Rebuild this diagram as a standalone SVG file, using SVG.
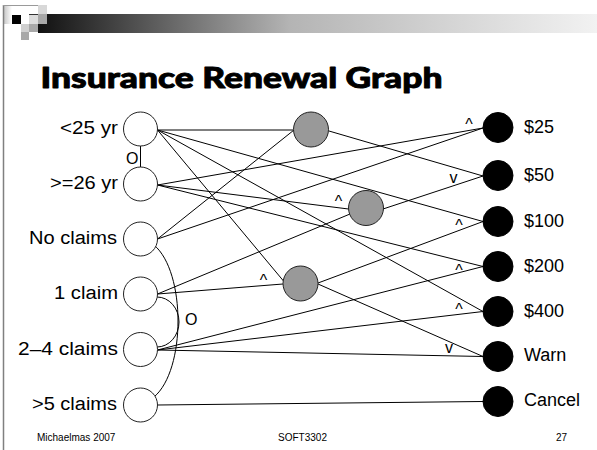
<svg xmlns="http://www.w3.org/2000/svg" width="597" height="450" viewBox="0 0 597 450">
<defs>
<linearGradient id="bar" x1="0" y1="0" x2="1" y2="0">
<stop offset="0" stop-color="#111"/>
<stop offset="0.45" stop-color="#b4b4b4"/>
<stop offset="1" stop-color="#f2f2f2"/>
</linearGradient>
<linearGradient id="corner" x1="0" y1="0" x2="1" y2="0">
<stop offset="0" stop-color="#c8c8c8"/>
<stop offset="1" stop-color="#fff"/>
</linearGradient>
</defs>
<style>
.lbl{font-family:"Liberation Sans",Arial,sans-serif;font-size:18px;fill:#000}
.op{font-family:"Liberation Sans",Arial,sans-serif;font-size:16px;fill:#000}
.ft{font-family:"Liberation Sans",Arial,sans-serif;font-size:10px;fill:#000}
.in{fill:#fff;stroke:#222;stroke-width:1}
.mid{fill:#999;stroke:#222;stroke-width:1}
.out{fill:#000;stroke:#000;stroke-width:1}
#connectors line,#connectors path{stroke:#000;stroke-width:1;fill:none}
</style>
<rect width="597" height="450" fill="#fff"/>
<!-- slide decoration -->
<rect x="4" y="6" width="8" height="18" fill="url(#corner)"/>
<line x1="3.5" y1="5" x2="3.5" y2="450" stroke="#808080" stroke-width="1.5"/>
<line x1="3" y1="5.5" x2="38" y2="5.5" stroke="#9a9a9a" stroke-width="1"/>
<rect x="38" y="14" width="559" height="19" fill="url(#bar)"/>
<rect x="38" y="5" width="9" height="9" fill="#d8d8d8"/>
<rect x="12" y="15" width="9" height="9" fill="#000"/>
<rect x="29" y="14" width="9" height="10" fill="#dcdcdc"/>
<line x1="29" y1="14.5" x2="38" y2="14.5" stroke="#333" stroke-width="1"/>
<rect x="38" y="14" width="9" height="10" fill="#a8a8a8"/>
<rect x="21" y="24" width="8" height="8" fill="#d0d0d0"/>
<rect x="29" y="24" width="9" height="8" fill="#a8a8a8"/>
<rect x="21" y="32" width="8" height="8" fill="#a8a8a8"/>
<text x="40.5" y="88" font-family="'Arial Black','Lato','DejaVu Sans',sans-serif" font-weight="900" font-size="29" stroke="#000" stroke-width="0.9" stroke-linejoin="round" textLength="402" lengthAdjust="spacingAndGlyphs">Insurance Renewal Graph</text>

<g id="connectors">
<line x1="157.5" y1="130" x2="293" y2="130"/>
<line x1="157.5" y1="130" x2="483" y2="221.5"/>
<line x1="157.5" y1="130" x2="483" y2="311.5"/>
<line x1="157.5" y1="130" x2="283.5" y2="281"/>
<line x1="157.5" y1="185" x2="483" y2="128"/>
<line x1="157.5" y1="185" x2="348.5" y2="209"/>
<line x1="157.5" y1="185" x2="483" y2="266.5"/>
<line x1="157.5" y1="239" x2="294" y2="130"/>
<line x1="157.5" y1="239" x2="483" y2="128"/>
<line x1="157.5" y1="294" x2="350" y2="214"/>
<line x1="157.5" y1="294" x2="283" y2="284"/>
<line x1="157.5" y1="350" x2="483" y2="266.5"/>
<line x1="157.5" y1="350" x2="483" y2="311.5"/>
<line x1="157.5" y1="350" x2="483" y2="356.5"/>
<line x1="157.5" y1="405" x2="483" y2="401.5"/>
<line x1="329" y1="131" x2="483" y2="176"/>
<line x1="383" y1="209" x2="483" y2="176"/>
<line x1="318" y1="283" x2="483" y2="221.5"/>
<line x1="318" y1="284" x2="483" y2="356.5"/>
<line x1="140.5" y1="146" x2="140.5" y2="167"/>
<path d="M154,245 C186,272 186,370 154,397"/>
<path d="M157,297 A22 25 0 0 1 157,347"/>
<text class="op" x="126" y="164">O</text>
<text class="op" x="185" y="325">O</text>
<text class="op" x="469" y="129.5" text-anchor="middle">^</text>
<text class="op" x="338.5" y="206.5" text-anchor="middle">^</text>
<text class="op" x="459" y="230.5" text-anchor="middle">^</text>
<text class="op" x="459" y="275.5" text-anchor="middle">^</text>
<text class="op" x="459" y="314.5" text-anchor="middle">^</text>
<text class="op" x="263.5" y="285.5" text-anchor="middle">^</text>
<text class="op" x="453.5" y="183" text-anchor="middle">v</text>
<text class="op" x="449" y="353" text-anchor="middle">v</text>
</g>

<g id="n-lt25"><circle class="in" cx="140.5" cy="129" r="17"/><text class="lbl" x="118" y="134" text-anchor="end" textLength="58" lengthAdjust="spacingAndGlyphs">&lt;25 yr</text></g>
<g id="n-ge26"><circle class="in" cx="140.5" cy="184" r="17"/><text class="lbl" x="118" y="189" text-anchor="end" textLength="68" lengthAdjust="spacingAndGlyphs">&gt;=26 yr</text></g>
<g id="n-noclaims"><circle class="in" cx="140.5" cy="239" r="17"/><text class="lbl" x="117" y="244" text-anchor="end" textLength="88" lengthAdjust="spacingAndGlyphs">No claims</text></g>
<g id="n-1claim"><circle class="in" cx="140.5" cy="294" r="17"/><text class="lbl" x="118" y="299" text-anchor="end" textLength="64" lengthAdjust="spacingAndGlyphs">1 claim</text></g>
<g id="n-2to4"><circle class="in" cx="140.5" cy="349.5" r="17"/><text class="lbl" x="118" y="354.5" text-anchor="end" textLength="100" lengthAdjust="spacingAndGlyphs">2–4 claims</text></g>
<g id="n-gt5"><circle class="in" cx="140.5" cy="405" r="17"/><text class="lbl" x="117" y="410" text-anchor="end" textLength="85" lengthAdjust="spacingAndGlyphs">&gt;5 claims</text></g>

<g id="g1"><circle class="mid" cx="311" cy="129.5" r="17.5"/></g>
<g id="g2"><circle class="mid" cx="366" cy="208" r="17.5"/></g>
<g id="g3"><circle class="mid" cx="300.5" cy="283.5" r="17.5"/></g>

<g id="o-25"><circle class="out" cx="498" cy="127.5" r="15"/><text class="lbl" x="524" y="132.5">$25</text></g>
<g id="o-50"><circle class="out" cx="498" cy="175.5" r="15"/><text class="lbl" x="524" y="180.5">$50</text></g>
<g id="o-100"><circle class="out" cx="498" cy="221.5" r="15"/><text class="lbl" x="524" y="226.5">$100</text></g>
<g id="o-200"><circle class="out" cx="498" cy="266.5" r="15"/><text class="lbl" x="524" y="271.5">$200</text></g>
<g id="o-400"><circle class="out" cx="498" cy="311.5" r="15"/><text class="lbl" x="524" y="316.5">$400</text></g>
<g id="o-warn"><circle class="out" cx="498" cy="356.5" r="15"/><text class="lbl" x="524" y="361">Warn</text></g>
<g id="o-cancel"><circle class="out" cx="498" cy="401.5" r="15"/><text class="lbl" x="524" y="406">Cancel</text></g>

<text class="ft" x="37" y="441">Michaelmas 2007</text>
<text class="ft" x="302.5" y="441" text-anchor="middle">SOFT3302</text>
<text class="ft" x="556" y="441">27</text>
</svg>
